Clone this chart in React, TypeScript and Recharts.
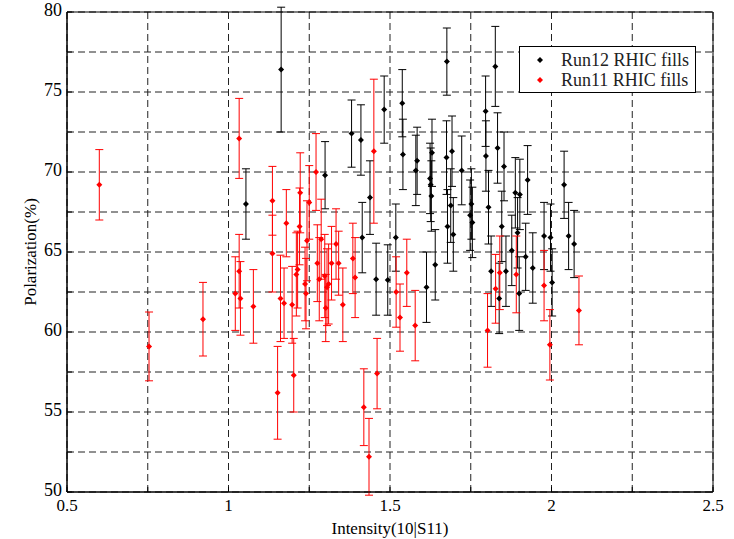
import React from 'react';
import { ScatterChart, Scatter, XAxis, YAxis, CartesianGrid, ErrorBar, Legend, ReferenceArea } from 'recharts';

// Run12 RHIC fills
const run12X = [
  1.054, 1.163, 1.299, 1.381, 1.41, 1.414, 1.438, 1.457, 1.482, 1.493,
  1.518, 1.538, 1.54, 1.58, 1.584, 1.613, 1.624, 1.626, 1.628, 1.63,
  1.64, 1.675, 1.676, 1.678, 1.688, 1.692, 1.696, 1.722, 1.748, 1.752,
  1.755, 1.796, 1.797, 1.805, 1.813, 1.826, 1.833, 1.838, 1.846, 1.853,
  1.859, 1.877, 1.888, 1.895, 1.902, 1.9, 1.92, 1.926, 1.942, 1.977,
  1.997, 2.002, 2.039, 2.053, 2.07,
];
const run12Y = [
  68.0, 76.4, 69.8, 72.4, 72.0, 65.9, 68.4, 63.3, 73.9, 63.25,
  65.9, 74.3, 71.1, 70.1, 70.7, 62.8, 69.6, 69.2, 68.5, 71.2,
  64.2, 70.9, 76.9, 66.6, 67.9, 71.3, 66.1, 70.1, 67.3, 68.0,
  66.85, 73.8, 71.0, 67.8, 63.8, 76.6, 71.5, 62.1, 66.6, 70.35,
  63.8, 65.1, 68.7, 66.2, 68.6, 62.4, 64.7, 69.5, 64.0, 66.0,
  65.9, 63.1, 69.2, 66.0, 65.5,
];
const run12Err = [
  2.2, 3.9, 2.1, 2.1, 2.2, 2.2, 2.3, 2.25, 2.1, 2.2,
  2.1, 2.1, 2.2, 2.2, 2.1, 2.2, 2.2, 2.3, 2.2, 2.1,
  2.2, 2.3, 2.1, 2.3, 2.3, 2.2, 2.3, 2.15, 2.2, 2.2,
  2.2, 2.2, 2.2, 2.3, 2.2, 2.5, 2.2, 2.2, 2.2, 2.15,
  2.2, 2.2, 2.2, 2.2, 2.2, 2.3, 2.1, 2.15, 2.2, 2.1,
  2.1, 2.1, 2.1, 2.1, 2.1,
];

// Run11 RHIC fills
const run11X = [
  0.6, 0.754, 0.921, 1.021, 1.033, 1.033, 1.037, 1.077, 1.136, 1.136,
  1.152, 1.161, 1.172, 1.179, 1.197, 1.202, 1.21, 1.214, 1.222, 1.22,
  1.237, 1.24, 1.243, 1.25, 1.271, 1.275, 1.281, 1.287, 1.298, 1.301,
  1.305, 1.31, 1.319, 1.333, 1.341, 1.354, 1.385, 1.392, 1.419, 1.435,
  1.45, 1.46, 1.519, 1.531, 1.552, 1.578, 1.802, 1.827, 1.84, 1.891,
  1.977, 1.995, 2.085,
];
const run11Y = [
  69.2, 59.1, 60.8, 62.4, 72.1, 63.8, 62.1, 61.6, 68.2, 64.9,
  56.2, 62.1, 61.8, 66.8, 61.7, 57.3, 63.6, 63.9, 68.7, 66.6,
  63.0, 62.4, 65.7, 68.1, 70.0, 64.3, 63.3, 65.8, 63.5, 61.5,
  62.8, 63.0, 64.3, 65.5, 64.3, 61.7, 64.6, 63.4, 55.3, 52.2,
  71.3, 57.4, 62.5, 60.9, 63.7, 60.4, 60.1, 62.7, 63.7, 63.6,
  62.9, 59.2, 61.35,
];
const run11Err = [
  2.2, 2.15, 2.3, 2.3, 2.5, 2.3, 2.3, 2.3, 2.15, 2.4,
  2.9, 2.7, 2.2, 2.1, 2.4, 2.3, 2.6, 2.4, 2.5, 2.4,
  2.3, 2.2, 2.5, 2.3, 2.4, 2.4, 2.6, 2.5, 2.6, 2.1,
  2.4, 2.5, 2.3, 2.2, 2.0, 2.3, 2.2, 2.5, 2.4, 2.4,
  4.5, 2.2, 2.2, 2.1, 2.1, 2.2, 2.3, 2.15, 2.3, 2.4,
  2.2, 2.2, 2.15,
];

const xTicks = [0.5, 0.75, 1, 1.25, 1.5, 1.75, 2, 2.25, 2.5];
const yTicks = [50, 52.5, 55, 57.5, 60, 62.5, 65, 67.5, 70, 72.5, 75, 77.5, 80];
const seriesOrder = ['Run12 RHIC fills', 'Run11 RHIC fills'];

const run12 = run12X.map((x, i) => ({ x, y: run12Y[i], err: run12Err[i] }));
const run11 = run11X.map((x, i) => ({ x, y: run11Y[i], err: run11Err[i] }));

const font = "'Liberation Serif', Tinos, 'Times New Roman', 'DejaVu Serif', serif";

const diamond = (color: string) => (props: any) => {
  const { cx, cy } = props;
  return (
    <polygon
      points={`${cx},${cy - 3} ${cx + 3},${cy} ${cx},${cy + 3} ${cx - 3},${cy}`}
      fill={color}
    />
  );
};

const LegendBox = (props: any) => {
  const items = [...(props.payload || [])].sort(
    (a: any, b: any) => seriesOrder.indexOf(a.value) - seriesOrder.indexOf(b.value)
  );
  return (
    <div
      style={{
        width: 177,
        height: 47,
        boxSizing: 'border-box',
        border: '1px solid #000',
        background: '#fff',
        fontFamily: font,
        fontSize: 18,
        color: '#222',
        paddingTop: 3,
      }}
    >
      {items.map((it: any) => (
        <div key={it.value} style={{ display: 'flex', alignItems: 'center', height: 20 }}>
          <svg width={41} height={20}>
            <polygon points="20,7 23,10 20,13 17,10" fill={it.color} />
          </svg>
          <span>{it.value}</span>
        </div>
      ))}
    </div>
  );
};

const App = () => (
  <div style={{ position: 'absolute', left: 0, top: 0, background: '#fff' }}>
    <ScatterChart width={734} height={539} margin={{ top: 12, right: 21, bottom: 0, left: 0 }}>
      <CartesianGrid stroke="#222" strokeDasharray="7 4" />
      <XAxis
        type="number"
        dataKey="x"
        domain={[0.5, 2.5]}
        ticks={xTicks}
        allowDataOverflow
        height={47}
        stroke="#000"
        tickSize={-5}
        tickMargin={12}
        tickFormatter={(v: number) => (v * 2) % 1 === 0 ? String(v) : ''}
        tick={{ fill: '#000', fontFamily: font, fontSize: 17 }}
        label={{ value: 'Intensity(10|S11)', position: 'insideBottom', offset: 5, fill: '#000', fontFamily: font, fontSize: 17 }}
      />
      <YAxis
        type="number"
        dataKey="y"
        domain={[50, 80]}
        ticks={yTicks}
        allowDataOverflow
        width={67}
        stroke="#000"
        tickSize={-5}
        tickMargin={10}
        tickFormatter={(v: number) => v % 5 === 0 ? String(v) : ''}
        tick={{ fill: '#000', fontFamily: font, fontSize: 18, dy: -2 }}
        label={{ value: 'Polarization(%)', angle: -90, position: 'insideLeft', offset: 30, fill: '#000', fontFamily: font, fontSize: 17, style: { textAnchor: 'middle' } }}
      />
      <ReferenceArea x1={0.5} x2={2.5} y1={50} y2={80} fill="none" stroke="#000" strokeWidth={1} />
      <Scatter name="Run12 RHIC fills" data={run12} fill="#000" shape={diamond('#000')} isAnimationActive={false}>
        <ErrorBar dataKey="err" direction="y" width={4} stroke="#000" strokeWidth={1} isAnimationActive={false} />
      </Scatter>
      <Scatter name="Run11 RHIC fills" data={run11} fill="#f00" shape={diamond('#f00')} isAnimationActive={false}>
        <ErrorBar dataKey="err" direction="y" width={4} stroke="#f00" strokeWidth={1} isAnimationActive={false} />
      </Scatter>
      <Legend
        layout="horizontal"
        align="center"
        verticalAlign="middle"
        content={<LegendBox />}
        wrapperStyle={{ position: 'absolute', left: 519, top: 46, width: 177, height: 47 }}
      />
    </ScatterChart>
  </div>
);

export default App;
